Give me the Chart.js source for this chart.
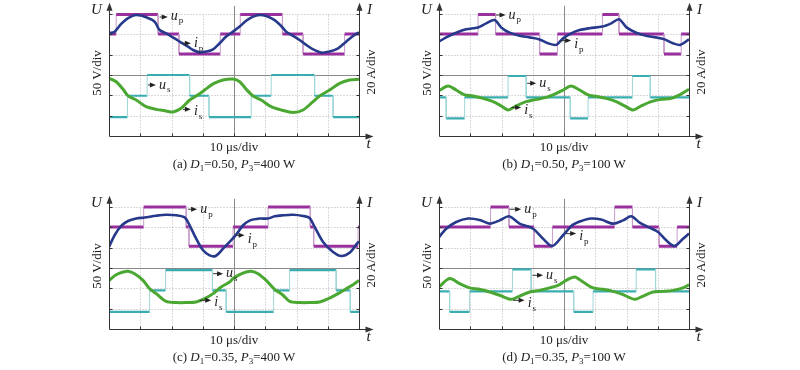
<!DOCTYPE html>
<html>
<head>
<meta charset="utf-8">
<script src="https://cdn.jsdelivr.net/npm/chart.js@4"></script>
<style>
    body { margin: 0; background: #fff; width: 800px; height: 370px; position: relative; overflow: hidden;
           font-family: "Liberation Serif", "Times New Roman", serif; color: #222; }
    canvas { position: absolute; }
    .lbl { position: absolute; font-size: 13px; white-space: nowrap; transform: translate(-50%, -50%); }
    .rot { transform: translate(-50%, -50%) rotate(-90deg); }
    .lbl sub { font-size: 9px; vertical-align: -3px; line-height: 0; }
</style>
</head>
<body>
<canvas id="pa" width="330" height="160" style="left:60px;top:0px"></canvas>
<canvas id="pb" width="330" height="160" style="left:390px;top:0px"></canvas>
<canvas id="pc" width="330" height="160" style="left:60px;top:193px"></canvas>
<canvas id="pd" width="330" height="160" style="left:390px;top:193px"></canvas>
<script>
// time in divisions (10 µs/div), amplitude in divisions

// step voltages: [switching instant, new level]
const upA = [[0, 2.02], [0.23, 2.98], [1.57, 2.02], [2.24, 1.03], [3.56, 2.02], [4.2, 2.98], [5.55, 2.02], [6.21, 1.03], [7.54, 2.02], [8, 2.02]];
const usA = [[0, -2.07], [0.59, -1.02], [1.22, 0], [2.58, -1.02], [3.2, -2.07], [4.55, -1.02], [5.19, 0], [6.58, -1.02], [7.17, -2.07], [8, -2.07]];
const upB = [[0, 2.02], [1.25, 2.98], [1.81, 2.02], [3.22, 1.03], [3.79, 2.02], [5.23, 2.98], [5.76, 2.02], [7.2, 1.03], [7.75, 2.02], [8, 2.02]];
const usB = [[0, -1.1], [0.23, -2.13], [0.82, -1.1], [2.21, -0.05], [2.79, -1.1], [4.2, -2.13], [4.77, -1.1], [6.19, -0.05], [6.76, -1.1], [8, -1.1]];
const upC = [[0, 2.02], [1.11, 3], [2.47, 2.02], [2.56, 1.07], [3.97, 2.02], [5.09, 3], [6.44, 2.02], [6.55, 1.07], [7.97, 2.02], [8, 2.02]];
const usC = [[0, -2.16], [1.3, -1.1], [1.81, -0.11], [3.31, -1.1], [3.75, -2.16], [5.27, -1.1], [5.78, -0.11], [7.27, -1.1], [7.72, -2.16], [8, -2.16]];
const upD = [[0, 2.02], [1.65, 3], [2.24, 2.02], [3.04, 1.07], [3.63, 2.02], [5.62, 3], [6.19, 2.02], [7.04, 1.07], [7.62, 2.02], [8, 2.02]];
const usD = [[0, -1.15], [0.34, -2.16], [0.98, -1.15], [2.35, -0.07], [2.95, -1.15], [4.31, -2.16], [4.93, -1.15], [6.31, -0.07], [6.93, -1.15], [8, -1.15]];

// currents: [time, value]
const ipA = [[0, 2.05], [0.18, 2.13], [0.39, 2.51], [0.61, 2.79], [0.87, 2.95], [1.19, 2.84], [1.46, 2.62], [1.62, 2.21], [1.83, 2.05], [2.1, 1.8], [2.31, 1.59], [2.53, 1.39], [2.69, 1.23], [2.9, 1.11], [3.11, 1.15], [3.33, 1.26], [3.54, 1.56], [3.75, 1.89], [3.97, 2.13],
             [4.18, 2.38], [4.39, 2.67], [4.61, 2.87], [4.82, 2.95], [5.03, 2.9], [5.3, 2.7], [5.51, 2.41], [5.67, 2.13], [5.89, 1.92], [6.1, 1.72], [6.31, 1.48], [6.53, 1.26], [6.79, 1.1], [7.06, 1.15], [7.33, 1.31], [7.59, 1.64], [7.81, 1.92], [8, 2.1]];
const isA = [[0, -0.16], [0.23, -0.33], [0.45, -0.7], [0.61, -1.03], [0.87, -1.23], [1.19, -1.56], [1.51, -1.69], [1.83, -1.77], [2.05, -1.82], [2.31, -1.64], [2.58, -1.23], [2.79, -1.03], [3.06, -0.74], [3.33, -0.44], [3.65, -0.25], [3.97, -0.2],
             [4.18, -0.33], [4.39, -0.7], [4.61, -1.03], [4.87, -1.23], [5.19, -1.56], [5.51, -1.72], [5.89, -1.84], [6.21, -1.72], [6.53, -1.31], [6.74, -1.03], [7.06, -0.74], [7.38, -0.41], [7.7, -0.25], [8, -0.21]];
const ipB = [[0, 1.64], [0.23, 1.85], [0.55, 2.08], [0.87, 2.25], [1.25, 2.34], [1.51, 2.54], [1.78, 2.7], [1.99, 2.34], [2.26, 2.08], [2.58, 1.93], [2.9, 1.85], [3.22, 1.75], [3.49, 1.56], [3.75, 1.48], [3.97, 1.8],
             [4.23, 2.05], [4.5, 2.21], [4.82, 2.3], [5.23, 2.38], [5.51, 2.54], [5.76, 2.74], [6, 2.34], [6.31, 2.08], [6.63, 1.93], [6.95, 1.85], [7.22, 1.75], [7.49, 1.56], [7.72, 1.48], [8, 1.75]];
const isB = [[0, -0.77], [0.29, -0.54], [0.55, -0.74], [0.82, -0.98], [1.09, -1.03], [1.41, -1.15], [1.73, -1.31], [1.99, -1.52], [2.21, -1.72], [2.47, -1.52], [2.79, -1.31], [3.11, -1.2], [3.43, -1.1], [3.65, -0.98], [3.97, -0.74],
             [4.23, -0.54], [4.5, -0.74], [4.77, -0.98], [5.03, -1.05], [5.35, -1.15], [5.67, -1.31], [5.94, -1.52], [6.21, -1.72], [6.47, -1.52], [6.79, -1.31], [7.11, -1.2], [7.43, -1.15], [7.7, -0.98], [8, -0.7]];
const ipC = [[0, 1.03], [0.18, 1.61], [0.39, 2.07], [0.61, 2.31], [0.87, 2.43], [1.14, 2.48], [1.51, 2.57], [1.83, 2.62], [2.15, 2.59], [2.42, 2.49], [2.58, 2.1], [2.79, 1.44], [3.01, 0.87], [3.22, 0.62], [3.41, 0.59], [3.65, 0.95], [3.86, 1.28],
             [4.07, 1.64], [4.29, 2.1], [4.5, 2.33], [4.82, 2.43], [5.09, 2.43], [5.3, 2.54], [5.57, 2.59], [5.89, 2.62], [6.21, 2.56], [6.42, 2.46], [6.58, 2.02], [6.85, 1.28], [7.17, 0.79], [7.43, 0.59], [7.7, 0.75], [7.91, 1.15], [8, 1.31]];
const isC = [[0, -0.61], [0.23, -0.33], [0.45, -0.2], [0.61, -0.16], [0.82, -0.28], [1.09, -0.61], [1.3, -1.02], [1.51, -1.26], [1.83, -1.64], [2.15, -1.7], [2.47, -1.7], [2.79, -1.67], [3.06, -1.51], [3.33, -1.26], [3.59, -0.93], [3.86, -0.69], [3.97, -0.52],
             [4.18, -0.33], [4.39, -0.2], [4.55, -0.16], [4.77, -0.28], [5.03, -0.61], [5.3, -1.05], [5.57, -1.34], [5.78, -1.64], [6.1, -1.7], [6.42, -1.7], [6.74, -1.67], [7.06, -1.48], [7.33, -1.26], [7.59, -1.02], [7.81, -0.82], [8, -0.61]];
const ipD = [[0, 1.52], [0.23, 1.93], [0.55, 2.26], [0.93, 2.43], [1.3, 2.36], [1.62, 2.18], [1.94, 2.34], [2.24, 2.54], [2.58, 2.18], [3.01, 1.93], [3.33, 1.44], [3.63, 1.08], [3.97, 1.61],
             [4.29, 2.13], [4.61, 2.34], [4.87, 2.43], [5.19, 2.38], [5.57, 2.18], [5.89, 2.34], [6.15, 2.54], [6.42, 2.23], [6.74, 1.98], [7.01, 1.77], [7.27, 1.36], [7.54, 1.08], [7.81, 1.44], [8, 1.69]];
const isD = [[0, -0.93], [0.34, -0.52], [0.66, -0.77], [0.98, -0.98], [1.3, -1.05], [1.62, -1.18], [1.94, -1.34], [2.31, -1.54], [2.58, -1.38], [2.9, -1.18], [3.22, -1.1], [3.54, -0.98], [3.81, -0.85], [4.07, -0.61],
             [4.34, -0.44], [4.61, -0.69], [4.93, -0.98], [5.25, -1.05], [5.57, -1.15], [5.89, -1.31], [6.26, -1.54], [6.53, -1.38], [6.85, -1.18], [7.17, -1.15], [7.49, -1.1], [7.81, -0.98], [8, -0.82]];

const captions = [
    '(a) <i>D</i><sub>1</sub>=0.50, <i>P</i><sub>3</sub>=400 W',
    '(b) <i>D</i><sub>1</sub>=0.50, <i>P</i><sub>3</sub>=100 W',
    '(c) <i>D</i><sub>1</sub>=0.35, <i>P</i><sub>3</sub>=400 W',
    '(d) <i>D</i><sub>1</sub>=0.35, <i>P</i><sub>3</sub>=100 W'
];

const PURPLE = '#9a2f9e', BLUE = '#27398a', TEAL = '#3aadb0', GREEN = '#4aa832';
const FONT = '"Liberation Serif", "Times New Roman", serif';

const toXY = (arr) => arr.map(([x, y]) => ({ x, y }));
// switching list -> polyline with vertical edges
const toSteps = (arr) => {
    const pts = [];
    arr.forEach(([t, v], i) => {
        if (i > 0) pts.push({ x: t, y: arr[i - 1][1] });
        pts.push({ x: t, y: v });
    });
    return pts;
};
const edgeStyle = (thin, color) => ({
    borderWidth: ctx => ctx.p0.parsed.x === ctx.p1.parsed.x ? 1 : undefined,
    borderColor: ctx => ctx.p0.parsed.x === ctx.p1.parsed.x ? thin : undefined
});

const arrowHead = (ctx, x, y, dir) => {
    ctx.beginPath();
    if (dir === 'up') { ctx.moveTo(x, y); ctx.lineTo(x - 3, y + 8); ctx.lineTo(x + 3, y + 8); }
    else { ctx.moveTo(x, y); ctx.lineTo(x - 8, y - 3); ctx.lineTo(x - 8, y + 3); }
    ctx.closePath();
    ctx.fill();
};

const scopePlugin = (labels) => ({
    id: 'scope',
    beforeDatasetsDraw(chart) {
        const { ctx, chartArea: a, scales: { x, y } } = chart;
        const px = v => Math.round(x.getPixelForValue(v)) + 0.5;
        const py = v => Math.round(y.getPixelForValue(v)) + 0.5;
        ctx.save();
        ctx.lineWidth = 1;
        // dotted grid
        ctx.strokeStyle = '#b5b5b5';
        ctx.setLineDash([1, 2]);
        for (let i = 1; i < 8; i++) {
            if (i === 4) continue;
            ctx.beginPath(); ctx.moveTo(px(i), py(-3)); ctx.lineTo(px(i), py(3)); ctx.stroke();
        }
        for (let j = -2; j <= 3; j++) {
            if (j === 0) continue;
            ctx.beginPath(); ctx.moveTo(px(0), py(j)); ctx.lineTo(px(8), py(j)); ctx.stroke();
        }
        // centre lines
        ctx.setLineDash([]);
        ctx.strokeStyle = '#8a8a8a';
        ctx.beginPath(); ctx.moveTo(px(4), py(-3)); ctx.lineTo(px(4), a.top + 2); ctx.stroke();
        ctx.beginPath(); ctx.moveTo(px(0), py(0)); ctx.lineTo(px(8), py(0)); ctx.stroke();
        ctx.restore();
    },
    afterDatasetsDraw(chart) {
        const { ctx, chartArea: a, scales: { x, y } } = chart;
        const px = v => Math.round(x.getPixelForValue(v)) + 0.5;
        const py = v => Math.round(y.getPixelForValue(v)) + 0.5;
        ctx.save();
        ctx.strokeStyle = '#333';
        ctx.fillStyle = '#333';
        ctx.lineWidth = 1;
        // axes
        const x0 = px(0), x8 = px(8), yb = py(-3);
        ctx.beginPath();
        ctx.moveTo(x0, yb); ctx.lineTo(x8 + 10, yb);
        ctx.moveTo(x0, yb); ctx.lineTo(x0, a.top + 4);
        ctx.moveTo(x8, yb); ctx.lineTo(x8, a.top + 4);
        for (let i = 1; i < 8; i++) { ctx.moveTo(px(i), yb); ctx.lineTo(px(i), yb - 3); }
        for (let j = -2; j <= 3; j++) {
            ctx.moveTo(x0, py(j)); ctx.lineTo(x0 + 3, py(j));
            ctx.moveTo(x8, py(j)); ctx.lineTo(x8 - 3, py(j));
        }
        ctx.stroke();
        arrowHead(ctx, x0, a.top - 1, 'up');
        arrowHead(ctx, x8, a.top - 1, 'up');
        arrowHead(ctx, x8 + 14, yb, 'right');

        ctx.fillStyle = '#222';
        ctx.textBaseline = 'middle';
        ctx.textAlign = 'center';
        ctx.font = 'italic 15px ' + FONT;
        ctx.fillText('U', x0 - 13, 10);
        ctx.fillText('I', x8 + 10, 10);
        ctx.fillText('t', x8 + 9, yb + 8);

        // trace labels
        ctx.textAlign = 'left';
        labels.forEach(l => {
            const ax0 = x.getPixelForValue(l.t0), ax1 = x.getPixelForValue(l.t1), ay = y.getPixelForValue(l.v);
            ctx.fillStyle = '#222';
            ctx.beginPath(); ctx.moveTo(ax0, ay); ctx.lineTo(ax1 - 4, ay); ctx.stroke();
            ctx.beginPath(); ctx.moveTo(ax1, ay); ctx.lineTo(ax1 - 6, ay - 2.5); ctx.lineTo(ax1 - 6, ay + 2.5); ctx.closePath(); ctx.fill();
            ctx.font = 'italic 14px ' + FONT;
            ctx.fillText(l.n, ax1 + 3, ay + l.dy);
            const w = ctx.measureText(l.n).width;
            ctx.font = '9px ' + FONT;
            ctx.fillText(l.s, ax1 + 4 + w, ay + l.dy + 5);
        });
        ctx.restore();
    }
});

const panels = [
    { id: 'pa', up: upA, us: usA, ip: ipA, is: isA, labels: [
        { n: 'u', s: 'p', t0: 1.62, t1: 1.88, v: 2.85, dy: -1 },
        { n: 'i', s: 'p', t0: 2.37, t1: 2.62, v: 1.56, dy: 0 },
        { n: 'u', s: 's', t0: 1.25, t1: 1.5, v: -0.49, dy: 0 },
        { n: 'i', s: 's', t0: 2.37, t1: 2.62, v: -1.69, dy: 2 }] },
    { id: 'pb', up: upB, us: usB, ip: ipB, is: isB, labels: [
        { n: 'u', s: 'p', t0: 1.81, t1: 2.13, v: 2.95, dy: 0 },
        { n: 'i', s: 'p', t0: 3.86, t1: 4.23, v: 1.69, dy: 4 },
        { n: 'u', s: 's', t0: 2.82, t1: 3.11, v: -0.41, dy: 0 },
        { n: 'i', s: 's', t0: 2.31, t1: 2.63, v: -1.6, dy: 3 }] },
    { id: 'pc', up: upC, us: usC, ip: ipC, is: isC, labels: [
        { n: 'u', s: 'p', t0: 2.53, t1: 2.82, v: 2.89, dy: 0 },
        { n: 'i', s: 'p', t0: 4.07, t1: 4.34, v: 1.61, dy: 4 },
        { n: 'u', s: 's', t0: 3.33, t1: 3.65, v: -0.28, dy: 0 },
        { n: 'i', s: 's', t0: 2.9, t1: 3.27, v: -1.59, dy: 2 }] },
    { id: 'pd', up: upD, us: usD, ip: ipD, is: isD, labels: [
        { n: 'u', s: 'p', t0: 2.26, t1: 2.63, v: 2.89, dy: 0 },
        { n: 'i', s: 'p', t0: 4.07, t1: 4.39, v: 1.69, dy: 3 },
        { n: 'u', s: 's', t0: 2.99, t1: 3.33, v: -0.36, dy: 0 },
        { n: 'i', s: 's', t0: 2.37, t1: 2.74, v: -1.59, dy: 3 }] }
];

panels.forEach((p, k) => {
    new Chart(document.getElementById(p.id), {
        type: 'line',
        data: {
            datasets: [
                { data: toXY(p.ip), borderColor: BLUE, borderWidth: 2.6, tension: 0.3 },
                { data: toXY(p.is), borderColor: GREEN, borderWidth: 3, tension: 0.3 },
                { data: toSteps(p.up), borderColor: PURPLE, borderWidth: 3, tension: 0, segment: edgeStyle('#c99ccb') },
                { data: toSteps(p.us), borderColor: TEAL, borderWidth: 2.2, tension: 0, segment: edgeStyle('#9fd6d8') }
            ]
        },
        options: {
            responsive: false,
            animation: false,
            events: [],
            layout: { padding: { left: 49, right: 31, top: 3.8, bottom: 24 } },
            elements: { point: { radius: 0 }, line: { borderCapStyle: 'butt', borderJoinStyle: 'round' } },
            scales: {
                x: { type: 'linear', min: 0, max: 8, display: false },
                y: { type: 'linear', min: -3, max: 3.5, display: false }
            },
            plugins: { legend: { display: false }, tooltip: { enabled: false } }
        },
        plugins: [scopePlugin(p.labels)]
    });

    // html texts
    const ox = (k % 2) * 330, oy = Math.floor(k / 2) * 193;
    const add = (html, x, y, cls) => {
        const d = document.createElement('div');
        d.className = 'lbl' + (cls ? ' ' + cls : '');
        d.innerHTML = html;
        d.style.left = (x + ox) + 'px';
        d.style.top = (y + oy) + 'px';
        document.body.appendChild(d);
    };
    add('10 μs/div', 234, 147);
    add(captions[k], 234, 164);
    add('50 V/div', 97, 73, 'rot');
    add('20 A/div', 371, 72, 'rot');
});
</script>
</body>
</html>
